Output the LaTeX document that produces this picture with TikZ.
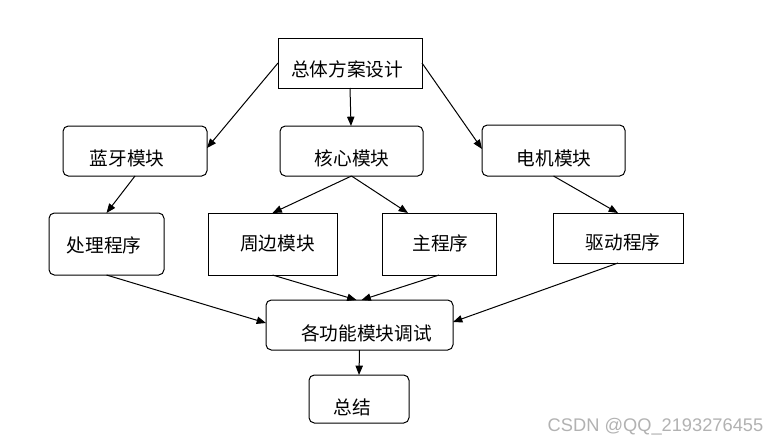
\documentclass[tikz,border=0pt]{standalone}
\usepackage{fontspec}
\newfontfamily\cjk{Noto Sans CJK SC}
\newfontfamily\wmfont{Liberation Sans}
\usetikzlibrary{arrows.meta,calc}
\begin{document}
\begin{tikzpicture}[x=0.75pt,y=-0.75pt,
  box/.style={draw=black, line width=0.75pt, inner sep=0pt, outer sep=0pt, fill=white},
  rbox/.style={box, rounded corners=4pt},
  lbl/.style={inner sep=0pt, font=\cjk\fontsize{14}{16}\selectfont},
  conn/.style={-{Triangle[length=7pt,width=5.5pt]}, line width=0.75pt, draw=black}]
\useasboundingbox[fill=white] (0,0) rectangle (780,446);
% boxes
\node[box, minimum width=108pt, minimum height=37.5pt] (top) at (350,63) {};
\node[rbox, minimum width=108pt, minimum height=37.5pt] (lan) at (135,151) {};
\node[rbox, minimum width=107.25pt, minimum height=37.5pt] (he) at (351.5,151) {};
\node[rbox, minimum width=107.25pt, minimum height=38.25pt] (dian) at (553.5,150.5) {};
\node[rbox, minimum width=86.25pt, minimum height=46.5pt] (chu) at (106.5,244) {};
\node[box, minimum width=96.75pt, minimum height=46.5pt] (zhou) at (272.5,244) {};
\node[box, minimum width=85.5pt, minimum height=46.5pt] (zhu) at (439,244) {};
\node[box, minimum width=97.5pt, minimum height=37.5pt] (qu) at (618,238) {};
\node[rbox, minimum width=140.25pt, minimum height=37.5pt] (ge) at (359.5,325) {};
\node[rbox, minimum width=75pt, minimum height=36pt] (zong) at (359,399) {};
% labels
\node[lbl] (ttop) at (347,69) {总体方案设计};
\node[lbl] (tlan) at (127,158) {蓝牙模块};
\node[lbl] (the) at (352,158) {核心模块};
\node[lbl] (tdian) at (554,158) {电机模块};
\node[lbl] (tchu) at (104,245) {处理程序};
\node[lbl] (tzhou) at (277.5,243) {周边模块};
\node[lbl] (tzhu) at (440.5,243) {主程序};
\node[lbl] (tqu) at (623,242) {驱动程序};
\node[lbl] (tge) at (366.5,333) {各功能模块调试};
\node[lbl] (tzong) at (352,407) {总结};
\node[inner sep=0pt, font=\wmfont\fontsize{13.7}{16}\selectfont, text=black!30] (wm) at (655.5,427) {CSDN @QQ\_2193276455};
% connectors
\draw[conn] (top.west) -- ($(lan.east)+(0,-3)$);
\draw[conn] (top.south) -- ($(he.north)+(-0.5,0)$);
\draw[conn] (top.east) -- ($(dian.west)+(0,-1.5)$);
\draw[conn] (lan.south) -- (chu.north);
\draw[conn] (he.south) -- (zhou.north);
\draw[conn] (he.south) -- ($(zhu.north west)+(26,0)$);
\draw[conn] (dian.south) -- (qu.north);
\draw[conn] (chu.south) -- ($(ge.west)+(0,-2)$);
\draw[conn] (zhou.south) -- ($(ge.north)+(-3,0)$);
\draw[conn] (zhu.south) -- ($(ge.north)+(2,0)$);
\draw[conn] (qu.south) -- ($(ge.east)+(0,-3)$);
\draw[conn] (ge.south) -- (zong.north);
\end{tikzpicture}
\end{document}
